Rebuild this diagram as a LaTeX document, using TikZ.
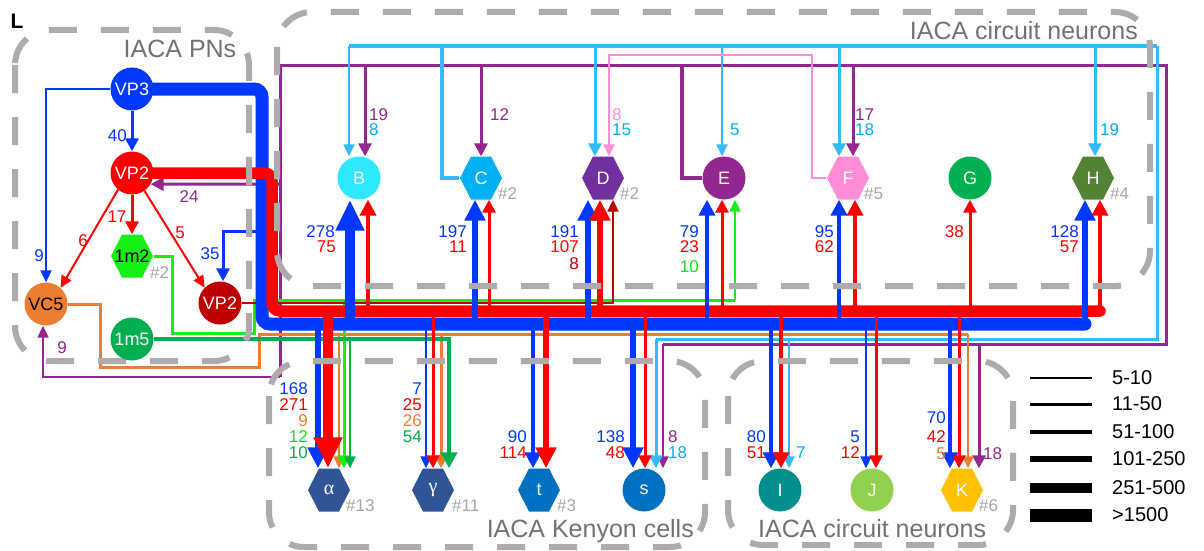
\documentclass[tikz,border=0pt]{standalone}
\usepackage{fontspec}
\setmainfont{Liberation Sans}
\newfontfamily\grkfont{Liberation Serif}
\usetikzlibrary{arrows.meta}
\definecolor{cBlue}{RGB}{0,56,255}
\definecolor{cRed}{RGB}{255,0,0}
\definecolor{cDRed}{RGB}{192,0,0}
\definecolor{cLB}{RGB}{51,187,255}
\definecolor{cLBt}{RGB}{0,176,240}
\definecolor{cPur}{RGB}{146,39,143}
\definecolor{cPink}{RGB}{255,140,215}
\definecolor{cOr}{RGB}{237,125,49}
\definecolor{cBG}{RGB}{20,240,20}
\definecolor{cBGt}{RGB}{20,225,20}
\definecolor{cDG}{RGB}{0,176,80}
\definecolor{cBox}{RGB}{175,171,171}
\definecolor{cTitle}{RGB}{118,113,113}
\definecolor{cHash}{RGB}{166,166,166}
\definecolor{cB}{RGB}{45,232,255}
\definecolor{cC}{RGB}{0,176,240}
\definecolor{cD}{RGB}{112,48,160}
\definecolor{cE}{RGB}{146,39,143}
\definecolor{cF}{RGB}{255,140,215}
\definecolor{cH}{RGB}{84,130,53}
\definecolor{cAl}{RGB}{47,85,151}
\definecolor{cT}{RGB}{0,112,192}
\definecolor{cI}{RGB}{0,143,140}
\definecolor{cJ}{RGB}{146,208,80}
\definecolor{cK}{RGB}{255,192,0}
\newcommand\nfnt{\fontsize{17}{17}\selectfont}
\newcommand\cfnt{\fontsize{18}{18}\selectfont}
\newcommand\tfnt{\fontsize{25}{25}\selectfont}
\newcommand\lfnt{\fontsize{20}{20}\selectfont}
\newcommand\hexn[5]{%
  \fill[#4] (#2-21,#3) -- (#2-10,#3-21.5) -- (#2+10,#3-21.5) -- (#2+21,#3) -- (#2+10,#3+21.5) -- (#2-10,#3+21.5) -- cycle;
  \node[hx] (#1) at (#2,#3) {#5};}
\newcommand\busarrow[4]{\coordinate (tmpx) at (#2,0); \draw[#1] (tmpx |- #3) -- (tmpx |- #4);}
\newcounter{labc}
\newcommand\lab[5]{\stepcounter{labc}\node[num,anchor=#1,text=#4] (lab\arabic{labc}) at (#2,#3) {#5};}
\pgfdeclarelayer{bg}
\pgfdeclarelayer{boxes}
\pgfsetlayers{bg,boxes,main}
\begin{document}
\begin{tikzpicture}[x=1pt,y=-1pt,
  w1/.style={line width=2pt},
  w2/.style={line width=3pt},
  w3/.style={line width=4.5pt},
  w4/.style={line width=6.5pt},
  w5/.style={line width=10pt},
  w6/.style={line width=13pt},
  a1/.style={w1,-{Triangle[length=12pt,width=11pt]}},
  a2/.style={w2,-{Triangle[length=13pt,width=13pt]}},
  a3/.style={w3,-{Triangle[length=16pt,width=16pt]}},
  a4/.style={w4,-{Triangle[length=21pt,width=20pt]}},
  a5/.style={w5,-{Triangle[length=31pt,width=27pt]}},
  cn/.style={circle,minimum size=43pt,inner sep=0pt,text=white,font=\cfnt},
  hx/.style={circle,minimum size=43pt,inner sep=0pt,text=white,font=\cfnt},
  num/.style={inner sep=0pt,font=\nfnt},
  hsh/.style={inner sep=0pt,font=\nfnt,text=cHash,anchor=west},
  gbox/.style={draw=cBox,line width=6pt,dash pattern=on 28pt off 24pt,rounded corners=35pt},
  ttl/.style={inner sep=0pt,font=\tfnt,text=cTitle},
]
\useasboundingbox (0,0) rectangle (1204,551);
% ---------------- nodes
\node[cn,fill=cBlue] (VP3) at (132,89) {VP3};
\node[cn,fill=cRed] (VP2r) at (132,173) {VP2};
\hexn{m12}{132}{256}{cBG}{\color{black}1m2}
\node[cn,fill=cOr,text=black] (VC5) at (46,304) {VC5};
\node[cn,fill=cDRed] (VP2d) at (220,303) {VP2};
\node[cn,fill=cDG] (m15) at (132,339) {1m5};
\node[cn,fill=cB] (B) at (359,178) {B};
\hexn{C}{481}{178}{cC}{C}
\hexn{D}{603}{178}{cD}{D}
\node[cn,fill=cE] (E) at (724,178) {E};
\hexn{F}{848}{178}{cF}{F}
\node[cn,fill=cDG] (G) at (970,178) {G};
\hexn{H}{1093}{178}{cH}{H}
\hexn{al}{329}{490}{cAl}{\grkfont\fontsize{20}{20}\selectfont α}
\hexn{ga}{433}{490}{cAl}{\grkfont\fontsize{20}{20}\selectfont γ}
\hexn{t}{539}{490}{cT}{t}
\node[cn,fill=cT] (s) at (644,490) {s};
\node[cn,fill=cI] (I) at (780,490) {I};
\node[cn,fill=cJ] (J) at (872,490) {J};
\hexn{K}{962}{490}{cK}{K}
% hash labels
\node[hsh] (h1) at (150,273) {\#2};
\node[hsh] (h2) at (498,194) {\#2};
\node[hsh] (h3) at (620,194) {\#2};
\node[hsh] (h4) at (864,194) {\#5};
\node[hsh] (h5) at (1110,194) {\#4};
\node[hsh] (h6) at (346,506) {\#13};
\node[hsh] (h7) at (452,506) {\#11};
\node[hsh] (h8) at (557,506) {\#3};
\node[hsh] (h9) at (979,506) {\#6};
% ---------------- connectors
\begin{pgfonlayer}{bg}
\fill[white] (0,0) rectangle (1204,551);
% purple network (from E)
\coordinate (pA) at (280,66); \coordinate (pB) at (1166,66); \coordinate (pC) at (1166,344);
\coordinate (pD) at (663,344); \coordinate (pE) at (682,66); \coordinate (pL) at (43,377);
\coordinate (pLc) at (280,377); \coordinate (p24) at (280,184);
\draw[cPur,w3] (E.west) -| (pE);
\draw[cPur,w2] (pLc) -- (pA) -- (pB) -- (pC) -- (pD);
\draw[cPur,a1] (pLc) -- (pL) -- (pL |- VC5.south);
\draw[cPur,a2] (p24) -- (VP2r.-31);
\busarrow{cPur,a2}{365}{pA}{B.north}
\busarrow{cPur,a2}{481}{pA}{C.north}
\busarrow{cPur,a2}{853}{pA}{F.north}
\busarrow{cPur,a1}{663}{pC}{s.north}
\busarrow{cPur,a2}{979}{pC}{K.north}
% light blue network (from C)
\coordinate (lA) at (349,46); \coordinate (lC) at (442,46); \coordinate (lB) at (1157,46);
\coordinate (lD) at (1157,339); \coordinate (lE) at (656,339);
\draw[cLB,w3] (C.west) -| (lC);
\draw[cLB,w3] (lA) -- (lB);
\draw[cLB,w2] (lB) -- (lD) -- (lE);
\busarrow{cLB,a1}{349}{lA}{B.north}
\busarrow{cLB,a2}{595}{lA}{D.north}
\busarrow{cLB,a1}{722}{lA}{E.north}
\busarrow{cLB,a2}{839}{lA}{F.north}
\busarrow{cLB,a2}{1095}{lA}{H.north}
\busarrow{cLB,a2}{656}{lD}{s.north}
\busarrow{cLB,a1}{789}{lD}{I.north}
% pink (from F)
\coordinate (kA) at (812,55); \coordinate (kB) at (609,55);
\draw[cPink,a1] (F.west) -| (kA) -- (kB) -- (kB |- D.north);
% orange (from VC5)
\coordinate (oA) at (100,367); \coordinate (oB) at (259,334); \coordinate (oC) at (968,334);
\draw[cOr,w2] (VC5.east) -| (oA) -| (oB) -- (oC);
\busarrow{cOr,a1}{339}{oB}{al.north}
\busarrow{cOr,a2}{441}{oB}{ga.north}
\busarrow{cOr,a1}{968}{oB}{K.north}
% bright green (from 1m2)
\coordinate (gA) at (172,333); \coordinate (gB) at (254,300); \coordinate (gC) at (735,300);
\draw[cBG,w2] (m12.east) -| (gA) -| (gB) -- (gC);
\busarrow{cBG,a1}{735}{gC}{E.south}
\busarrow{cBG,a2}{344}{gB}{al.north}
% dark green (from 1m5)
\draw[cDG,a3] (m15.east) -| ([xshift=16pt]ga.north);
\busarrow{cDG,a1}{350}{m15.east}{al.north}
% dark red (from VP2)
\draw[cDRed,a1] (VP2d.east) -| ([xshift=10pt]D.south);
% local PN connections
\coordinate (j35) at (262,231);
\draw[cBlue,a2] (j35) -| ([xshift=3pt]VP2d.north);
\draw[cBlue,a2] (VP3.south) -- (VP2r.north);
\draw[cBlue,a1] (VP3.west) -| (VC5.north);
\draw[cRed,a1] (VP2r.230) -- (VC5.48);
\draw[cRed,a2] (VP2r.south) -- (m12.north);
\draw[cRed,a1] (VP2r.305) -- (VP2d.135);
% buses
\coordinate (BB) at (262,324); \coordinate (RB) at (272,311);
\draw[cBlue,w6,rounded corners=8pt,line cap=round] (VP3.center) -- (262,89) -- (BB) -- (1085,324);
\draw[cRed,line width=11.5pt,rounded corners=8pt,line cap=round] (VP2r.center) -- (272,173) -- (RB) -- (1100,311);
% up to circuit neurons
\busarrow{cBlue,a5}{350}{BB}{B.south}
\busarrow{cBlue,a4}{475}{BB}{C.south}
\busarrow{cBlue,a4}{588}{BB}{D.south}
\busarrow{cBlue,a3}{707}{BB}{E.south}
\busarrow{cBlue,a3}{839}{BB}{F.south}
\busarrow{cBlue,a4}{1085}{BB}{H.south}
\busarrow{cRed,a3}{368}{RB}{B.south}
\busarrow{cRed,a2}{489}{RB}{C.south}
\busarrow{cRed,a4}{600}{RB}{D.south}
\busarrow{cRed,a2}{722}{RB}{E.south}
\busarrow{cRed,a3}{855}{RB}{F.south}
\busarrow{cRed,a2}{970}{RB}{G.south}
\busarrow{cRed,a3}{1100}{RB}{H.south}
% down to KCs and circuit neurons
\busarrow{cBlue,a4}{318}{BB}{al.north}
\busarrow{cBlue,a1}{426}{BB}{ga.north}
\busarrow{cBlue,a3}{533}{BB}{t.north}
\busarrow{cBlue,a4}{633}{BB}{s.north}
\busarrow{cBlue,a3}{771}{BB}{I.north}
\busarrow{cBlue,a1}{866}{BB}{J.north}
\busarrow{cBlue,a3}{950}{BB}{K.north}
\busarrow{cRed,a5}{328}{RB}{al.north}
\busarrow{cRed,a2}{433}{RB}{ga.north}
\busarrow{cRed,a4}{546}{RB}{t.north}
\busarrow{cRed,a2}{645}{RB}{s.north}
\busarrow{cRed,a3}{781}{RB}{I.north}
\busarrow{cRed,a2}{876}{RB}{J.north}
\busarrow{cRed,a2}{959}{RB}{K.north}
\end{pgfonlayer}
% ---------------- boxes
\begin{pgfonlayer}{boxes}
\draw[gbox] (15,30) rectangle (249,361);
\draw[gbox] (277,12) rectangle (1150,286);
\draw[gbox] (269,361) rectangle (705,547);
\draw[gbox] (728,361) rectangle (1013,545);
\end{pgfonlayer}
\node[ttl,anchor=base] (tPN) at (180,57) {IACA PNs};
\node[ttl,anchor=base east] (tCN1) at (1138,40) {IACA circuit neurons};
\node[ttl,anchor=base east] (tKC) at (694,537) {IACA Kenyon cells};
\node[ttl,anchor=base west] (tCN2) at (758,537) {IACA circuit neurons};
\node[font=\bfseries\fontsize{21}{21}\selectfont,inner sep=0pt] (Lp) at (17,21) {L};
% ---------------- numbers
\lab{east}{127}{136}{cBlue}{40}
\lab{center}{189}{197}{cPur}{24}
\lab{center}{117}{217}{cRed}{17}
\lab{center}{83}{241}{cRed}{6}
\lab{center}{180}{233}{cRed}{5}
\lab{center}{39}{256}{cBlue}{9}
\lab{center}{210}{254}{cBlue}{35}
\lab{center}{62}{348}{cPur}{9}
\lab{west}{369}{115}{cPur}{19}
\lab{west}{369}{130}{cLBt}{8}
\lab{west}{490}{115}{cPur}{12}
\lab{west}{612}{115}{cPink}{8}
\lab{west}{612}{130}{cLBt}{15}
\lab{west}{730}{130}{cLBt}{5}
\lab{west}{855}{115}{cPur}{17}
\lab{west}{855}{130}{cLBt}{18}
\lab{west}{1100}{130}{cLBt}{19}
\lab{east}{335}{232}{cBlue}{278}
\lab{east}{336}{247}{cRed}{75}
\lab{east}{467}{232}{cBlue}{197}
\lab{east}{467}{247}{cRed}{11}
\lab{east}{579}{232}{cBlue}{191}
\lab{east}{579}{247}{cRed}{107}
\lab{east}{579}{264}{cDRed}{8}
\lab{east}{699}{232}{cBlue}{79}
\lab{east}{699}{247}{cRed}{23}
\lab{east}{699}{267}{cBGt}{10}
\lab{east}{834}{232}{cBlue}{95}
\lab{east}{834}{247}{cRed}{62}
\lab{east}{964}{232}{cRed}{38}
\lab{east}{1079}{232}{cBlue}{128}
\lab{east}{1079}{247}{cRed}{57}
\lab{east}{308}{389}{cBlue}{168}
\lab{east}{308}{405}{cRed}{271}
\lab{east}{308}{421}{cOr}{9}
\lab{east}{308}{437}{cBGt}{12}
\lab{east}{308}{453}{cDG}{10}
\lab{east}{422}{389}{cBlue}{7}
\lab{east}{422}{405}{cRed}{25}
\lab{east}{422}{421}{cOr}{26}
\lab{east}{422}{437}{cDG}{54}
\lab{east}{527}{437}{cBlue}{90}
\lab{east}{527}{453}{cRed}{114}
\lab{east}{625}{437}{cBlue}{138}
\lab{east}{625}{453}{cRed}{48}
\lab{west}{668}{437}{cPur}{8}
\lab{west}{668}{453}{cLBt}{18}
\lab{east}{766}{437}{cBlue}{80}
\lab{east}{766}{453}{cRed}{51}
\lab{west}{796}{453}{cLBt}{7}
\lab{east}{860}{437}{cBlue}{5}
\lab{east}{860}{453}{cRed}{12}
\lab{east}{946}{418}{cBlue}{70}
\lab{east}{946}{437}{cRed}{42}
\lab{east}{946}{454}{cOr}{5}
\lab{west}{983}{454}{cPur}{18}
% ---------------- legend
\foreach \y/\w/\t [count=\i] in {378/2/5-10, 404/3/11-50, 432/4.5/51-100, 459/6.5/101-250, 488/10/251-500, 515/13/>1500}{
  \draw[line width=\w pt] (1030,\y) -- (1092,\y);
  \node[anchor=west,inner sep=0pt,font=\lfnt] (leg\i) at (1112,\y) {\t};
}
\end{tikzpicture}
\end{document}
